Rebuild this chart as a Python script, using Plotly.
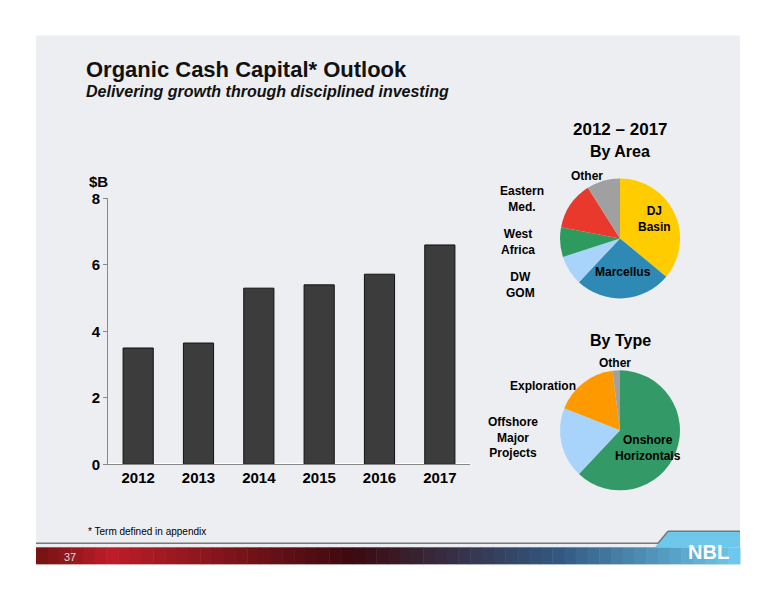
import plotly.graph_objects as go

years = ["2012", "2013", "2014", "2015", "2016", "2017"]
capital = [3.5, 3.65, 5.3, 5.4, 5.72, 6.6]

area_labels = ["DJ Basin", "Marcellus", "DW GOM", "West Africa", "Eastern Med.", "Other"]
area_values = [36, 26, 8, 8, 13, 9]
area_colors = ["#ffcc00", "#2e8ab5", "#a8d4fb", "#2f9a5e", "#e8392c", "#a0a0a0"]

type_labels = ["Onshore Horizontals", "Offshore Major Projects", "Exploration", "Other"]
type_values = [62, 19, 17, 2]
type_colors = ["#339966", "#a8d4fb", "#ff9900", "#a0a0a0"]

W, H = 776, 600
OX, OY = 8, 15
SY = 0.972
def px(x): return (x - OX) / W
def py(y): return 1 - (69 + (y - 69) / SY - OY) / H

fig = go.Figure()
fig.add_trace(go.Bar(x=years, y=capital, marker=dict(color="#3c3c3c", line=dict(color="#111", width=1)),
                     width=0.5, showlegend=False))
fig.add_trace(go.Pie(labels=area_labels, values=area_values, sort=False, direction="clockwise", rotation=0,
                     marker=dict(colors=area_colors), textinfo="none", hoverinfo="label+percent",
                     domain=dict(x=[px(560), px(680)], y=[py(298), py(178)]), showlegend=False))
fig.add_trace(go.Pie(labels=type_labels, values=type_values, sort=False, direction="clockwise", rotation=0,
                     marker=dict(colors=type_colors), textinfo="none", hoverinfo="label+percent",
                     domain=dict(x=[px(560), px(680)], y=[py(490), py(370)]), showlegend=False))

shapes = [dict(type="rect", xref="paper", yref="paper", x0=px(36), x1=px(740), y0=py(565), y1=py(35),
               fillcolor="#eceef1", line=dict(width=0), layer="below"),
          dict(type="line", xref="paper", yref="paper", x0=px(36), x1=px(658), y0=py(543), y1=py(543),
               line=dict(color="#777", width=1.5))]
stops = [(0, (120, 20, 20)), (0.1, (190, 30, 40)), (0.45, (60, 10, 15)), (0.75, (50, 90, 130)), (1, (110, 200, 235))]
n = 60
x0, x1 = 36, 740
for i in range(n):
    t = i / (n - 1)
    for j in range(len(stops) - 1):
        if stops[j][0] <= t <= stops[j + 1][0]:
            a, b = stops[j], stops[j + 1]
            f = (t - a[0]) / (b[0] - a[0])
            c = tuple(int(a[1][k] + f * (b[1][k] - a[1][k])) for k in range(3))
            break
    xa = x0 + (x1 - x0) * i / n
    xb = x0 + (x1 - x0) * (i + 1) / n + 0.5
    shapes.append(dict(type="rect", xref="paper", yref="paper", x0=px(xa), x1=px(xb), y0=py(564), y1=py(547),
                       fillcolor="rgb(%d,%d,%d)" % c, line=dict(width=0)))
shapes.append(dict(type="path", xref="paper", yref="paper",
                   path="M %f %f L %f %f L %f %f L %f %f Z" % (px(655), py(547), px(668), py(531), px(740), py(531), px(740), py(547)),
                   fillcolor="#6ec8ec", line=dict(width=0)))
shapes.append(dict(type="line", xref="paper", yref="paper", x0=px(668), x1=px(740), y0=py(531), y1=py(531),
                   line=dict(color="#777", width=1.5)))
shapes.append(dict(type="line", xref="paper", yref="paper", x0=px(658), x1=px(668), y0=py(543), y1=py(531),
                   line=dict(color="#777", width=1.5)))

F = "Arial, Liberation Sans"
def ann(x, y, t, size=12, color="#000", bold=True, anchor="center", italic=False):
    s = t
    if bold: s = "<b>" + s + "</b>"
    if italic: s = "<i>" + s + "</i>"
    return dict(x=px(x), y=py(y), xref="paper", yref="paper", text=s, showarrow=False,
                font=dict(family=F, size=size, color=color), xanchor=anchor, yanchor="middle", align="center")

anns = [
    ann(84, 69, "Organic Cash Capital* Outlook", 22, "#111", anchor="left"),
    ann(84, 91, "Delivering growth through disciplined investing", 16, "#111", anchor="left", italic=True),
    ann(87, 181, "$B", 15, anchor="left"),
    ann(620, 129, "2012 – 2017", 17),
    ann(620, 151, "By Area", 16),
    ann(620, 340, "By Type", 16),
    ann(587, 176, "Other", 12),
    ann(522, 199, "Eastern<br>Med.", 12),
    ann(518, 242, "West<br>Africa", 12),
    ann(520, 285, "DW<br>GOM", 12),
    ann(654, 219, "DJ<br>Basin", 12),
    ann(623, 272, "Marcellus", 12),
    ann(615, 363, "Other", 12),
    ann(543, 386, "Exploration", 12),
    ann(513, 437, "Offshore<br>Major<br>Projects", 12),
    ann(648, 448, "Onshore<br>Horizontals", 12),
    ann(86, 531, "* Term defined in appendix", 10, bold=False, anchor="left"),
    ann(62, 557, "37", 11, "#ddd", bold=False, anchor="left"),
    ann(708, 552, "NBL", 20, "#fff"),
]

fig.update_layout(
    width=W, height=H, margin=dict(l=0, r=0, t=0, b=0), paper_bgcolor="white", plot_bgcolor="rgba(0,0,0,0)",
    shapes=shapes, annotations=anns, bargap=0.5,
    xaxis=dict(domain=[px(108), px(470)], showline=True, linecolor="#888", ticks="",
               tickfont=dict(family=F, size=15, color="#000", weight="bold")),
    yaxis=dict(domain=[py(464), py(198)], range=[0, 8], dtick=2, showgrid=False, showline=True,
               linecolor="#888", ticks="outside", ticklen=4, tickcolor="#888",
               tickfont=dict(family=F, size=15, color="#000", weight="bold")),
)
fig.write_html("out.html")
